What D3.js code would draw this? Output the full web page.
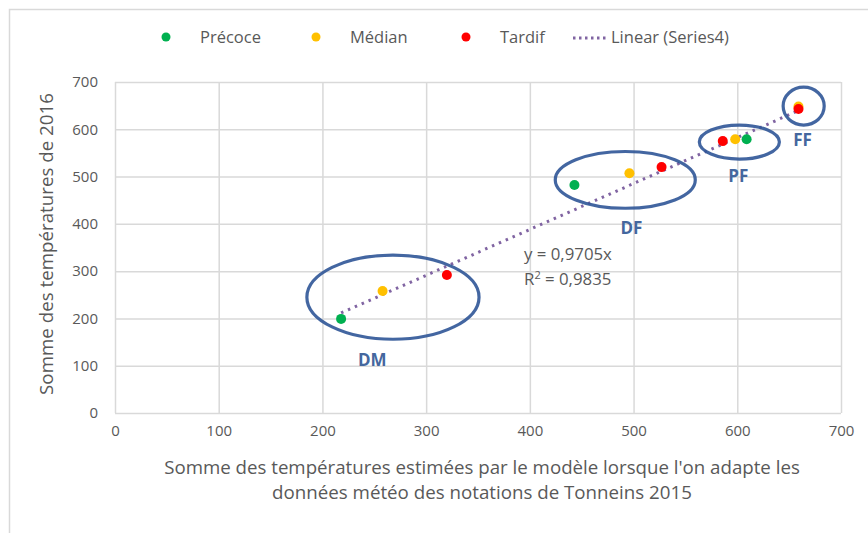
<!DOCTYPE html>
<html><head><meta charset="utf-8">
<script src="https://cdn.jsdelivr.net/npm/d3@7"></script>
<style>
html,body{margin:0;padding:0;background:#fff;}
svg text{font-family:"Open Sans","Noto Sans",sans-serif;}
</style></head>
<body><svg id="c" width="868" height="533"></svg>
<script>
// ---- data ----
const seriesNames = ["Précoce", "Médian", "Tardif"];
const seriesColors = ["#00B050", "#FFC000", "#FF0000"];
const precoceX = [218, 443, 609];
const precoceY = [199, 482, 579];
const medianX = [258, 496, 598, 659];
const medianY = [258, 507, 579, 648];
const tardifX = [320, 527, 586, 659];
const tardifY = [292, 520, 575, 643];
const trendSlope = 0.9705;
const trendR2 = "0,9835";
const xTicks = [0, 100, 200, 300, 400, 500, 600, 700];
const yTicks = [0, 100, 200, 300, 400, 500, 600, 700];
const groupNames = ["DM", "DF", "PF", "FF"];
const groupCx = [268, 492, 602, 664];
const groupCy = [245, 493, 573, 649];
const groupRx = [83, 67.5, 38.6, 19.8];
const groupRy = [89, 60, 36, 40];
const groupLabelX = [248, 498, 601, 663];
const groupLabelY = [112, 391, 501, 577];
const xTitle = ["Somme des températures estimées par le modèle lorsque l'on adapte les", "données météo des notations de Tonneins 2015"];
const yTitle = "Somme des températures de 2016";
const trendName = "Linear (Series4)";

// ---- layout ----
const svg = d3.select("#c");
const x = d3.scaleLinear().domain([0, 700]).range([115, 841]);
const y = d3.scaleLinear().domain([0, 700]).range([413, 82]);
const txt = "#595959";
const grid = "#d9d9d9";

// outer chart border
svg.append("rect").attr("x", 9.5).attr("y", 9.5).attr("width", 900).attr("height", 600)
  .attr("fill", "none").attr("stroke", grid).attr("stroke-width", 1.5);

// gridlines via axes
svg.append("g").attr("transform", `translate(0,${y(0)})`)
  .call(d3.axisBottom(x).tickValues(xTicks).tickSize(-(y(0) - y(700))).tickFormat(""))
  .call(g => g.select(".domain").remove())
  .call(g => g.selectAll("line").attr("stroke", grid).attr("stroke-width", 1.5));
svg.append("g").attr("transform", `translate(${x(0)},0)`)
  .call(d3.axisLeft(y).tickValues(yTicks).tickSize(-(x(700) - x(0))).tickFormat(""))
  .call(g => g.select(".domain").remove())
  .call(g => g.selectAll("line").attr("stroke", grid).attr("stroke-width", 1.5));

// tick labels via axes
svg.append("g").attr("transform", `translate(0,${y(0)})`)
  .call(d3.axisBottom(x).tickValues(xTicks).tickSize(0).tickPadding(12).tickFormat(d3.format("d")))
  .call(g => g.select(".domain").remove())
  .call(g => g.selectAll("text").attr("fill", txt).style("font-size", "15px"));
svg.append("g").attr("transform", `translate(${x(0)},0)`)
  .call(d3.axisLeft(y).tickValues(yTicks).tickSize(0).tickPadding(17).tickFormat(d3.format("d")))
  .call(g => g.select(".domain").remove())
  .call(g => g.selectAll("text").attr("fill", txt).style("font-size", "15px"));

// axis titles
function fitText(sel, w) {
  const n = sel.node(); const cur = n.getComputedTextLength();
  const fs = parseFloat(sel.style("font-size"));
  sel.style("font-size", (fs * w / cur) + "px");
}
const xt1 = svg.append("text").attr("x", 482).attr("y", 474).attr("text-anchor", "middle")
  .attr("fill", txt).style("font-size", "16px").text(xTitle[0]);
fitText(xt1, 636);
const xt2 = svg.append("text").attr("x", 482).attr("y", 499).attr("text-anchor", "middle")
  .attr("fill", txt).style("font-size", "16px").text(xTitle[1]);
fitText(xt2, 420);
const yt = svg.append("text").attr("transform", "translate(53,244) rotate(-90)").attr("text-anchor", "middle")
  .attr("fill", txt).style("font-size", "16px").text(yTitle);
fitText(yt, 302);

// trendline
const xs = precoceX.concat(medianX, tardifX);
const tx = d3.extent(xs);
svg.append("path")
  .datum(tx.map(v => [v, trendSlope * v]))
  .attr("d", d3.line().x(d => x(d[0])).y(d => y(d[1])))
  .attr("fill", "none").attr("stroke", "#8064A2").attr("stroke-width", 3)
  .attr("stroke-dasharray", "2.5,5").attr("stroke-linecap", "butt");

// equation text
const eq1 = svg.append("text").attr("x", 524).attr("y", 260).attr("fill", txt).style("font-size", "15px")
  .text("y = " + String(trendSlope).replace(".", ",") + "x");
fitText(eq1, 88);
const eqFs = eq1.style("font-size");
svg.append("text").attr("x", 524).attr("y", 285).attr("fill", txt).style("font-size", eqFs)
  .html("R<tspan dy='-6' style='font-size:11px'>2</tspan><tspan dy='6'> = " + trendR2 + "</tspan>");

// points
const series = [
  {xs: precoceX, ys: precoceY},
  {xs: medianX, ys: medianY},
  {xs: tardifX, ys: tardifY}
];
series.forEach((s, i) => {
  svg.append("g").selectAll("circle").data(s.xs.map((v, j) => [v, s.ys[j]])).join("circle")
    .attr("cx", d => x(d[0])).attr("cy", d => y(d[1])).attr("r", 5).attr("fill", seriesColors[i]);
});

// group ellipses
const ell = "#2F5597";
groupNames.forEach((n, i) => {
  svg.append("ellipse")
    .attr("cx", x(groupCx[i])).attr("cy", y(groupCy[i]))
    .attr("rx", x(groupRx[i]) - x(0)).attr("ry", y(0) - y(groupRy[i]))
    .attr("fill", "none").attr("stroke", ell).attr("stroke-width", 3.2).attr("opacity", 0.9);
  svg.append("text").attr("x", x(groupLabelX[i])).attr("y", y(groupLabelY[i])).attr("dy", "0.36em")
    .attr("text-anchor", "middle").attr("fill", "#44679E").style("font-size", "17px")
    .style("font-weight", "bold").text(n);
});

// legend
const legX = [166, 316, 466];
seriesNames.forEach((n, i) => {
  svg.append("circle").attr("cx", legX[i]).attr("cy", 37).attr("r", 4.5).attr("fill", seriesColors[i]);
  svg.append("text").attr("x", legX[i] + 34).attr("y", 43).attr("fill", txt)
    .style("font-size", "16.5px").text(n);
});
svg.append("line").attr("x1", 573).attr("x2", 606).attr("y1", 38).attr("y2", 38)
  .attr("stroke", "#8064A2").attr("stroke-width", 3).attr("stroke-dasharray", "2.5,3.5");
svg.append("text").attr("x", 611).attr("y", 43).attr("fill", txt).style("font-size", "16.5px").text(trendName);
</script></body></html>
